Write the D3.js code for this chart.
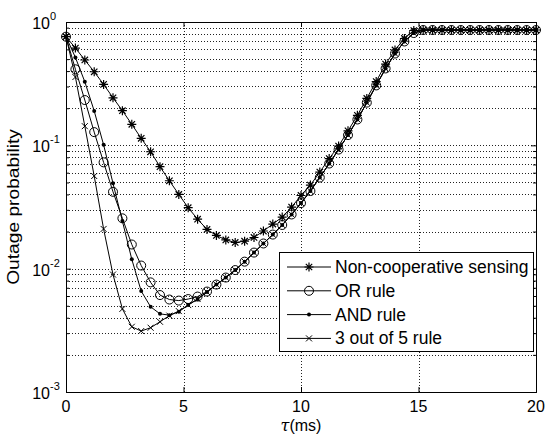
<!DOCTYPE html>
<html>
<head>
<meta charset="utf-8">
<script src="https://cdn.jsdelivr.net/npm/d3@7"></script>
<style>
  body { margin: 0; background: #fff; }
  text { font-family: "Liberation Sans", Arial, Helvetica, sans-serif; fill: #000; }
</style>
</head>
<body>
<div id="graph"></div>
<script>
// sampling instants (ms)
var tau = [0,0.4,0.8,1.2,1.6,2,2.4,2.8,3.2,3.6,4,4.4,4.8,5.2,5.6,6,6.4,6.8,7.2,7.6,
    8,8.4,8.8,9.2,9.6,10,10.4,10.8,11.2,11.6,12,12.4,12.8,13.2,13.6,14,14.4,14.8,
    15.2,15.6,16,16.4,16.8,17.2,17.6,18,18.4,18.8,19.2,19.6,20];

var nonCoop = [0.76,0.615,0.492,0.395,0.312,0.243,0.191,0.148,0.114,0.0887,0.0671,0.0516,
    0.040,0.0312,0.0252,0.0208,0.0186,0.0171,0.0163,0.0167,0.0179,0.0202,0.023,0.0262,
    0.0316,0.0392,0.0476,0.0607,0.0781,0.0987,0.131,0.175,0.240,0.329,0.456,0.593,0.735,0.853,
    0.861,0.861,0.861,0.861,0.861,0.861,0.861,0.861,0.861,0.861,0.861,0.861,0.861];

var orRule = [0.76,0.4135,0.233,0.128,0.0728,0.042,0.0256,0.0157,0.0106,0.00774,0.00611,0.00562,
    0.00551,0.00567,0.00594,0.00652,0.00743,0.00847,0.00974,0.0114,0.0135,0.016,0.0189,0.0226,
    0.0275,0.034,0.0426,0.0548,0.0712,0.0924,0.121,0.162,0.222,0.306,0.42,0.555,0.695,0.814,
    0.861,0.861,0.861,0.861,0.861,0.861,0.861,0.861,0.861,0.861,0.861,0.861,0.861];

var andRule = [0.76,0.516,0.328,0.19,0.101,0.0492,0.0243,0.0119,0.00658,0.00491,0.0043,0.0042,
    0.00447,0.00507,0.00567,0.00646,0.00743,0.00847,0.00974,0.0114,0.0135,0.016,0.0189,0.0226,
    0.0275,0.034,0.0426,0.0548,0.0712,0.0924,0.121,0.162,0.222,0.306,0.42,0.555,0.695,0.814,
    0.861,0.861,0.861,0.861,0.861,0.861,0.861,0.861,0.861,0.861,0.861,0.861,0.861];

var kOutOf5 = [0.76,0.358,0.143,0.0564,0.021,0.00896,0.00472,0.00338,0.00312,0.00332,0.00371,0.00416,
    0.00453,0.00507,0.00567,0.00646,0.00743,0.00847,0.00974,0.0114,0.0135,0.016,0.0189,0.0226,
    0.0275,0.034,0.0426,0.0548,0.0712,0.0924,0.121,0.162,0.222,0.306,0.42,0.555,0.695,0.814,
    0.861,0.861,0.861,0.861,0.861,0.861,0.861,0.861,0.861,0.861,0.861,0.861,0.861];

var seriesNames = ["Non-cooperative sensing", "OR rule", "AND rule", "3 out of 5 rule"];
var xTicks = [0, 5, 10, 15, 20];
var yDecades = [-3, -2, -1, 0];

var W = 546, H = 437;
var pLeft = 66, pRight = 536, pTop = 22, pBottom = 392;

var vis = d3.select("#graph")
    .append("svg")
    .attr("width", W).attr("height", H);

var x = d3.scaleLinear().domain([0, 20]).range([pLeft, pRight]);
var y = d3.scaleLog().domain([1e-3, 1]).range([pBottom, pTop]);

// grid lines (dotted)
var minorVals = [];
for (var d = -3; d < 0; d++) {
    for (var m = 2; m <= 9; m++) minorVals.push(m * Math.pow(10, d));
}
var gridY = minorVals.concat([1e-2, 1e-1]);
vis.selectAll("line.gy")
    .data(gridY)
    .enter()
    .append("line")
    .attr("x1", pLeft).attr("x2", pRight)
    .attr("y1", function (d) { return Math.round(y(d)) + 0.5; })
    .attr("y2", function (d) { return Math.round(y(d)) + 0.5; })
    .attr("stroke", "#222")
    .attr("stroke-dasharray", "1,2");
vis.selectAll("line.gx")
    .data([5, 10, 15])
    .enter()
    .append("line")
    .attr("y1", pTop).attr("y2", pBottom)
    .attr("x1", function (d) { return Math.round(x(d)) + 0.5; })
    .attr("x2", function (d) { return Math.round(x(d)) + 0.5; })
    .attr("stroke", "#222")
    .attr("stroke-dasharray", "1,2");

// axes: d3 axes on all four sides, ticks pointing inwards
var xAxisB = d3.axisBottom(x).tickValues(xTicks).tickSize(-5).tickFormat("");
var xAxisT = d3.axisTop(x).tickValues(xTicks).tickSize(-5).tickFormat("");
var yMaj = yDecades.map(function (d) { return Math.pow(10, d); });
var yAxisL = d3.axisLeft(y).tickValues(yMaj).tickSize(-5).tickFormat("");
var yAxisR = d3.axisRight(y).tickValues(yMaj).tickSize(-5).tickFormat("");
var yMinL = d3.axisLeft(y).tickValues(minorVals).tickSize(-3).tickFormat("");
var yMinR = d3.axisRight(y).tickValues(minorVals).tickSize(-3).tickFormat("");

vis.append("g").attr("transform", "translate(0," + pBottom + ")").call(xAxisB);
vis.append("g").attr("transform", "translate(0," + pTop + ")").call(xAxisT);
vis.append("g").attr("transform", "translate(" + pLeft + ",0)").call(yAxisL);
vis.append("g").attr("transform", "translate(" + pRight + ",0)").call(yAxisR);
vis.append("g").attr("transform", "translate(" + pLeft + ",0)").call(yMinL);
vis.append("g").attr("transform", "translate(" + pRight + ",0)").call(yMinR);
vis.selectAll(".domain").attr("stroke", "#000").attr("stroke-width", 1);
vis.selectAll(".tick line").attr("stroke", "#000");

// tick labels
vis.selectAll("text.xl")
    .data(xTicks)
    .enter()
    .append("text")
    .attr("x", function (d) { return x(d); })
    .attr("y", pBottom + 20)
    .attr("text-anchor", "middle")
    .attr("font-size", "16px")
    .text(function (d) { return d; });

vis.selectAll("text.yl")
    .data(yDecades)
    .enter()
    .append("text")
    .attr("x", 50)
    .attr("y", function (d) { return y(Math.pow(10, d)) + 7; })
    .attr("text-anchor", "end")
    .attr("font-size", "16px")
    .text("10");
vis.selectAll("text.ye")
    .data(yDecades)
    .enter()
    .append("text")
    .attr("x", 50)
    .attr("y", function (d) { return y(Math.pow(10, d)) - 2; })
    .attr("font-size", "11px")
    .text(function (d) { return d === 0 ? "0" : "-" + Math.abs(d); });

// axis titles
var xt = vis.append("text")
    .attr("x", 301).attr("y", 431)
    .attr("text-anchor", "middle")
    .attr("font-size", "16px");
xt.append("tspan").attr("font-style", "italic").attr("font-family", "DejaVu Serif").text("τ");
xt.append("tspan").text("(ms)");

vis.append("text")
    .attr("transform", "translate(19," + ((pTop + pBottom) / 2) + ") rotate(-90) scale(1.2,1)")
    .attr("text-anchor", "middle")
    .attr("font-size", "16px")
    .text("Outage probability");

// markers
var starPath = "M-4.5,0H4.5M0,-4.5V4.5M-3.2,-3.2L3.2,3.2M-3.2,3.2L3.2,-3.2";
var crossPath = "M-3,-3L3,3M-3,3L3,-3";

function drawMarker(g, type) {
    if (type === "star") {
        g.append("path").attr("d", starPath).attr("stroke", "#000").attr("stroke-width", 1.2).attr("fill", "none");
    } else if (type === "circle") {
        g.append("circle").attr("r", 4.5).attr("stroke", "#000").attr("fill", "none");
    } else if (type === "dot") {
        g.append("circle").attr("r", 2).attr("fill", "#000");
    } else {
        g.append("path").attr("d", crossPath).attr("stroke", "#000").attr("fill", "none");
    }
}

var series = [
    { name: seriesNames[0], vals: nonCoop, mk: "star" },
    { name: seriesNames[1], vals: orRule, mk: "circle" },
    { name: seriesNames[2], vals: andRule, mk: "dot" },
    { name: seriesNames[3], vals: kOutOf5, mk: "cross" }
];

var line = d3.line()
    .x(function (d) { return x(d[0]); })
    .y(function (d) { return y(d[1]); });

series.forEach(function (s) {
    var pts = tau.map(function (t, i) { return [t, s.vals[i]]; });
    vis.append("path")
        .datum(pts)
        .attr("d", line)
        .attr("fill", "none")
        .attr("stroke", "#000")
        .attr("stroke-width", 1);
    vis.selectAll(null)
        .data(pts)
        .enter()
        .append("g")
        .attr("transform", function (d) { return "translate(" + x(d[0]) + "," + y(d[1]) + ")"; })
        .each(function () { drawMarker(d3.select(this), s.mk); });
});

// legend
var lg = vis.append("g");
lg.append("rect")
    .attr("x", 279.5).attr("y", 252.5)
    .attr("width", 254).attr("height", 99)
    .attr("fill", "#fff").attr("stroke", "#000");
series.forEach(function (s, i) {
    var ly = 267 + i * 23.8;
    lg.append("line")
        .attr("x1", 287).attr("x2", 331)
        .attr("y1", ly).attr("y2", ly)
        .attr("stroke", "#000");
    drawMarker(lg.append("g").attr("transform", "translate(309," + ly + ")"), s.mk);
    lg.append("text")
        .attr("x", 335).attr("y", ly + 6)
        .attr("font-size", "17.5px")
        .text(s.name);
});
</script>
</body>
</html>
